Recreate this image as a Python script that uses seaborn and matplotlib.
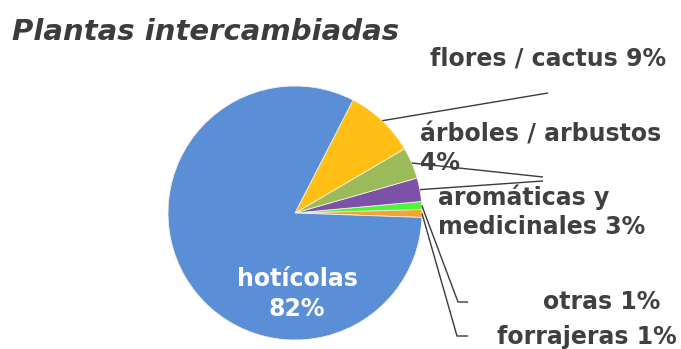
import numpy as np
import matplotlib
matplotlib.use("Agg")
import matplotlib.pyplot as plt
import seaborn as sns

sns.set_theme(style="white")
plt.rcParams["font.family"] = ["DejaVu Sans"]

# Slices in counter-clockwise order starting just below the 3 o'clock position
categories = ["forrajeras", "otras", "aromáticas y\nmedicinales", "árboles / arbustos\n",
              "flores / cactus", "hotícolas"]
values = [1, 1, 3, 4, 9, 82]
colors = ["#F5A431", "#4DF53A", "#7B52A8", "#9BBB59", "#FFBF14", "#5A8FD8"]

title = "Plantas intercambiadas"
text_color = "#404040"

W, H = 681, 349
cx, cy, R = 295, 213, 127  # pie centre and radius in pixels

fig = plt.figure(figsize=(W / 100, H / 100), dpi=100)
ax = fig.add_axes([0, 0, 1, 1])


def px(x, y):
    return ((x - cx) / R, (cy - y) / R)


wedges, _ = ax.pie(values, colors=colors, startangle=-2, counterclock=True,
                   radius=1, center=(0, 0), frame=True,
                   wedgeprops=dict(edgecolor="#f4f0e0", linewidth=0.6))
ax.set_xlim(-cx / R, (W - cx) / R)
ax.set_ylim(-(H - cy) / R, cy / R)
ax.set_aspect("auto")
ax.set_axis_off()


def edge_point(w):
    mid = np.deg2rad((w.theta1 + w.theta2) / 2)
    return np.cos(mid), np.sin(mid)


# leader lines (pixel waypoints after the wedge edge)
leaders = {
    4: [(548, 93)],
    3: [(543, 177)],
    2: [(543, 181)],
    1: [(458, 302), (468, 302)],
    0: [(457, 336), (468, 336)],
}
for i, pts in leaders.items():
    x0, y0 = edge_point(wedges[i])
    xs = [x0] + [px(*p)[0] for p in pts]
    ys = [y0] + [px(*p)[1] for p in pts]
    ax.plot(xs, ys, color="#3a3a3a", lw=1.0, solid_capstyle="butt")

lab_kw = dict(fontsize=17, fontweight="bold", color=text_color, va="center")

ax.text(*px(430, 58), f"{categories[4]} {values[4]}%", ha="left", **lab_kw)
ax.text(*px(420, 135), "árboles / arbustos", ha="left", **lab_kw)
ax.text(*px(420, 163), f"{values[3]}%", ha="left", **lab_kw)
ax.text(*px(438, 197), "aromáticas y", ha="left", **lab_kw)
ax.text(*px(438, 227), f"medicinales {values[2]}%", ha="left", **lab_kw)
ax.text(*px(660, 302), f"{categories[1]} {values[1]}%", ha="right", **lab_kw)
ax.text(*px(677, 337), f"{categories[0]} {values[0]}%", ha="right", **lab_kw)

ax.text(*px(297, 279), categories[5], ha="center", va="center",
        fontsize=17, fontweight="bold", color="white")
ax.text(*px(297, 309), f"{values[5]}%", ha="center", va="center",
        fontsize=17, fontweight="bold", color="white")

fig.text(12 / W, 1 - 32 / H, title, ha="left", va="center",
         fontsize=21, fontweight="bold", fontstyle="italic", color="#3c3c3c")

fig.savefig("out.png", dpi=100, facecolor="white")
